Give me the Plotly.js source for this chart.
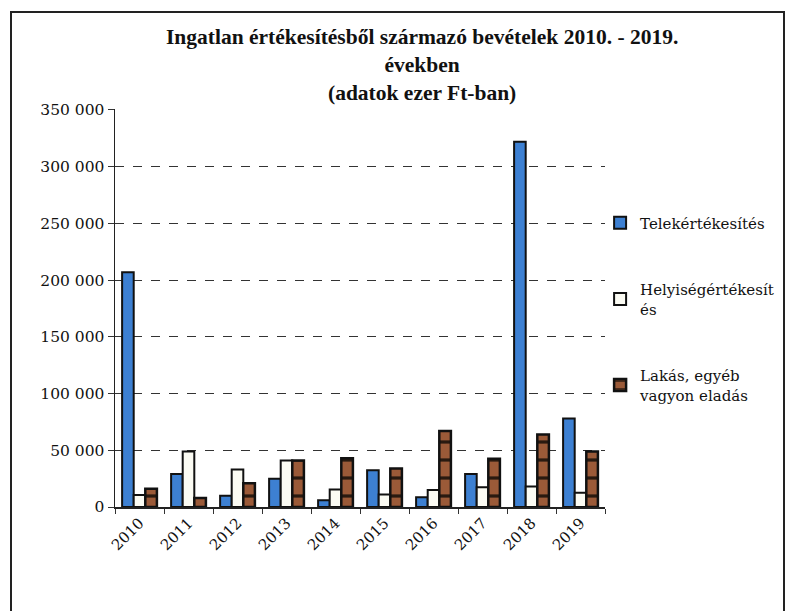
<!DOCTYPE html>
<html>
<head>
<meta charset="utf-8">
<script src="https://cdn.plot.ly/plotly-3.0.1.min.js"></script>
<style>
body{margin:0;padding:0;background:#fff;}
#chart{width:792px;height:611px;position:absolute;left:0;top:0;}
#frame{position:absolute;left:10px;top:11px;width:771px;height:620px;border:2px solid #222;pointer-events:none;}
</style>
</head>
<body>
<div id="chart"></div>
<div id="frame"></div>
<script>
const years = ['2010','2011','2012','2013','2014','2015','2016','2017','2018','2019'];
const telek = [207000, 29000, 10000, 25000, 6000, 32500, 8500, 29000, 322000, 78000];
const helyiseg = [10500, 49000, 33000, 41000, 15500, 11000, 15000, 17500, 18000, 12500];
const lakas = [16000, 8000, 21000, 41000, 43000, 34000, 67000, 42500, 64000, 49000];
const names = ['Telekértékesítés', 'Helyiségértékesít<br>és', 'Lakás, egyéb<br>vagyon eladás'];
const yTicks = [0, 50000, 100000, 150000, 200000, 250000, 300000, 350000];

const serifBold = '"Liberation Serif", "Times New Roman", Times, serif';
const serif = 'DejaVu Serif';

const traces = [
  {type:'bar', x:years, y:telek, name:names[0], legendgroup:'a',
   marker:{color:'#3d80d2', line:{color:'#111', width:2}}},
  {type:'bar', x:years, y:helyiseg, name:names[1], legendgroup:'b',
   marker:{color:'#fbfbf3', line:{color:'#111', width:2}}},
  {type:'bar', x:years, y:lakas, name:names[2], legendgroup:'c',
   marker:{color:'#9b5a38', line:{color:'#111', width:2.5},
           pattern:{shape:'-', bgcolor:'#9b5a38', fgcolor:'#2a1a10', size:18, solidity:0.18}}}
];

const layout = {
  width:792, height:611,
  margin:{l:115, r:187, t:109, b:104},
  paper_bgcolor:'#fff', plot_bgcolor:'#fff',
  font:{family:serif, color:'#111', size:15},
  separators:'. ',
  title:{text:'<b>Ingatlan értékesítésből származó bevételek 2010. - 2019.<br>években<br>(adatok ezer Ft-ban)</b>',
         x:0.533, xanchor:'center', y:0.928, yanchor:'top',
         font:{family:serifBold, size:21.5, color:'#111'}},
  barmode:'group', bargap:0.29, bargroupgap:0,
  xaxis:{type:'category', tickson:'boundaries', ticks:'outside', ticklen:5, tickcolor:'#333',
         showline:true, linecolor:'#222', linewidth:1.5, showgrid:false,
         tickangle:-45, tickfont:{family:serif, size:15, color:'#111'}},
  yaxis:{range:[0,350800], tickvals:yTicks, tickformat:',d', ticks:'outside', ticklen:6, tickcolor:'#333',
         showline:true, linecolor:'#222', linewidth:1.5,
         showgrid:true, gridcolor:'#333', griddash:'dash', gridwidth:1, zeroline:false,
         tickfont:{family:serif, size:15.5, color:'#111'}},
  legend:{x:0.99, xanchor:'left', y:0.755, yanchor:'top', tracegroupgap:44,
          font:{family:serif, size:15, color:'#111'}, itemwidth:30, bgcolor:'rgba(0,0,0,0)'},
  showlegend:true
};

Plotly.newPlot('chart', traces, layout, {displayModeBar:false, staticPlot:true});
</script>
</body>
</html>
